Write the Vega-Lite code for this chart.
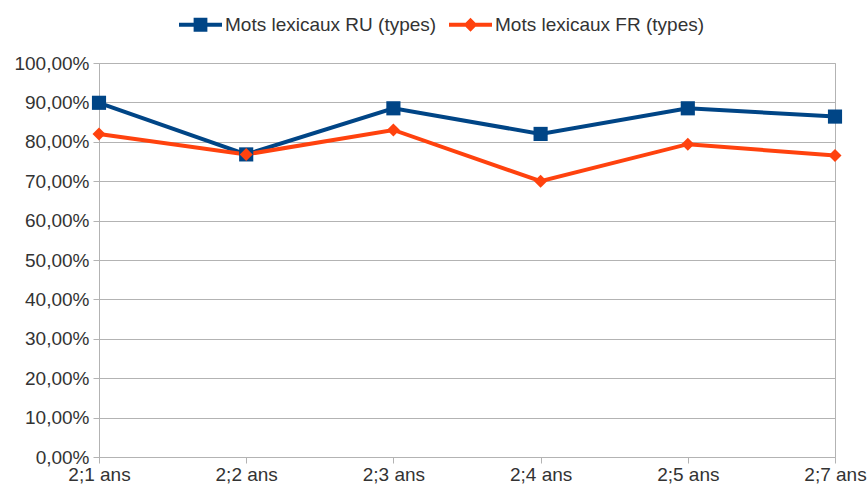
{
  "$schema": "https://vega.github.io/schema/vega-lite/v6.json",
  "autosize": "none",
  "width": 736,
  "height": 394,
  "padding": {"left": 99, "top": 63, "right": 33, "bottom": 33},
  "background": "white",
  "config": {
    "font": "Liberation Sans",
    "view": {"stroke": "#b3b3b3", "strokeWidth": 1},
    "axis": {"labelFont": "Liberation Sans", "labelFontSize": 19, "labelColor": "#333333", "domainColor": "#b3b3b3", "tickColor": "#b3b3b3", "gridColor": "#b3b3b3", "title": null}
  },
  "data": {
    "values": [
      {"age": "2;1 ans", "serie": "Mots lexicaux RU (types)", "v": 0.899},
      {"age": "2;2 ans", "serie": "Mots lexicaux RU (types)", "v": 0.768},
      {"age": "2;3 ans", "serie": "Mots lexicaux RU (types)", "v": 0.885},
      {"age": "2;4 ans", "serie": "Mots lexicaux RU (types)", "v": 0.820},
      {"age": "2;5 ans", "serie": "Mots lexicaux RU (types)", "v": 0.885},
      {"age": "2;7 ans", "serie": "Mots lexicaux RU (types)", "v": 0.864},
      {"age": "2;1 ans", "serie": "Mots lexicaux FR (types)", "v": 0.820},
      {"age": "2;2 ans", "serie": "Mots lexicaux FR (types)", "v": 0.768},
      {"age": "2;3 ans", "serie": "Mots lexicaux FR (types)", "v": 0.830},
      {"age": "2;4 ans", "serie": "Mots lexicaux FR (types)", "v": 0.700},
      {"age": "2;5 ans", "serie": "Mots lexicaux FR (types)", "v": 0.794},
      {"age": "2;7 ans", "serie": "Mots lexicaux FR (types)", "v": 0.765}
    ]
  },
  "encoding": {
    "x": {"field": "age", "type": "ordinal", "scale": {"type": "point", "padding": 0},
          "axis": {"labelAngle": 0, "grid": false, "tickSize": 6, "labelPadding": 2, "domain": true}},
    "y": {"field": "v", "type": "quantitative", "scale": {"domain": [0, 1], "nice": false},
          "axis": {"values": [0, 0.1, 0.2, 0.3, 0.4, 0.5, 0.6, 0.7, 0.8, 0.9, 1], "labelExpr": "replace(format(datum.value, '.2%'), '.', ',')", "grid": true, "tickSize": 6, "labelPadding": 4, "domain": true}},
    "color": {"field": "serie", "type": "nominal",
      "scale": {"domain": ["Mots lexicaux RU (types)", "Mots lexicaux FR (types)"], "range": ["#004586", "#ff420e"]},
      "legend": {
        "orient": "none", "legendX": 80, "legendY": -60, "direction": "horizontal", "title": null,
        "labelFont": "Liberation Sans", "labelFontSize": 19, "labelColor": "#333333", "labelLimit": 400,
        "symbolSize": 1849, "labelOffset": 3, "columnPadding": 12, "symbolStrokeWidth": 0,
        "encode": {"symbols": {"update": {
          "shape": {"signal": "datum.value === 'Mots lexicaux RU (types)' ? 'M-1,-0.09H1V0.09H-1Z M-0.32,-0.32H0.32V0.32H-0.32Z' : 'M-1,-0.09H1V0.09H-1Z M0,-0.32L0.32,0L0,0.32L-0.32,0Z'"},
          "fill": {"scale": "color", "field": "value"},
          "fillOpacity": {"value": 1},
          "strokeWidth": {"value": 0}
        }}}
      }
    }
  },
  "layer": [
    {
      "mark": {"type": "line", "strokeWidth": 4}
    },
    {
      "transform": [{"filter": "datum.serie === 'Mots lexicaux RU (types)'"}],
      "mark": {"type": "point", "filled": true, "opacity": 1, "shape": "square", "size": 200}
    },
    {
      "transform": [{"filter": "datum.serie === 'Mots lexicaux FR (types)'"}],
      "mark": {"type": "point", "filled": true, "opacity": 1, "shape": "diamond", "size": 170}
    }
  ]
}
